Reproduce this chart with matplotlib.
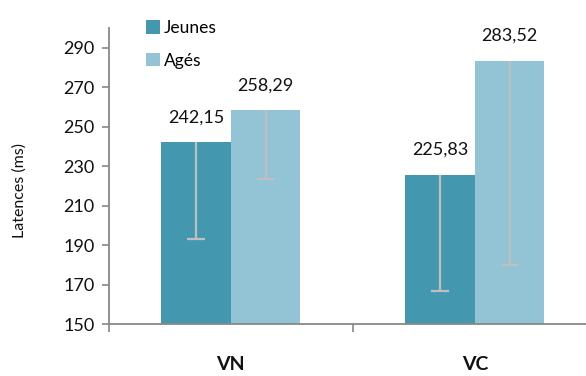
import matplotlib
matplotlib.use("Agg")
import matplotlib.pyplot as plt
import numpy as np
from matplotlib.patches import Patch

plt.rcParams["font.family"] = ["Lato", "DejaVu Sans"]

# Data
CATEGORIES = ["VN", "VC"]
SERIES = ["Jeunes", "Agés"]
JEUNES = [242.15, 225.83]
AGES = [258.29, 283.52]
JEUNES_ERR = [48.7, 58.8]   # minus-only error bars
AGES_ERR = [34.6, 103.2]
YTICKS = [150, 170, 190, 210, 230, 250, 270, 290]

CLR_JEUNES = "#4398B0"
CLR_AGES = "#93C4D5"
CLR_ERR = "#BFBFBF"
CLR_AXIS = "#888888"


def fmt(v):
    return f"{v:.2f}".replace(".", ",")


def build():
    fig = plt.figure(figsize=(5.86, 3.76), dpi=100)
    ax = fig.add_axes([0.1855, 0.137, 0.833, 0.7885])

    x = np.arange(len(CATEGORIES))
    w = 0.285
    cap = 0.035
    for vals, errs, clr, off in [(JEUNES, JEUNES_ERR, CLR_JEUNES, -w / 2),
                                 (AGES, AGES_ERR, CLR_AGES, w / 2)]:
        xs = x + off
        ax.bar(xs, vals, width=w, color=clr, zorder=2)
        lows = np.array(vals) - np.array(errs)
        ax.vlines(xs, lows, vals, color=CLR_ERR, linewidth=1.6, zorder=3)
        ax.hlines(lows, xs - cap, xs + cap, color=CLR_ERR, linewidth=1.6, zorder=3)
        for xi, v in zip(xs, vals):
            ax.annotate(fmt(v), (xi, v), xytext=(0, 18), textcoords="offset points",
                        ha="center", va="center", fontsize=13, color="#111")

    ax.set_xlim(-0.5, 1.5)
    ax.set_ylim(150, 300)
    ax.set_yticks(YTICKS)
    ax.set_xticks([-0.5, 0.5, 1.5])
    ax.set_xticklabels([])
    ax.tick_params(axis="y", labelsize=13, length=5, width=1.2, color=CLR_AXIS,
                   pad=5, labelcolor="#111")
    ax.tick_params(axis="x", length=6, width=1.2, color=CLR_AXIS)

    for xi, c in zip(x, CATEGORIES):
        ax.text(xi, -0.135, c, transform=ax.get_xaxis_transform(),
                ha="center", va="center", fontsize=14, fontweight="bold",
                color="#111")

    for s in ["top", "right"]:
        ax.spines[s].set_visible(False)
    for s in ["left", "bottom"]:
        ax.spines[s].set_color(CLR_AXIS)
        ax.spines[s].set_linewidth(1.3)

    fig.text(20 / 586, 1 - 190 / 376, "Latences (ms)", rotation=90,
             ha="center", va="center", fontsize=11.5, color="#111")

    handles = [Patch(facecolor=CLR_JEUNES, label=SERIES[0]),
               Patch(facecolor=CLR_AGES, label=SERIES[1])]
    fig.legend(handles=handles, loc="upper left",
               bbox_to_anchor=(134 / 586, 1 - 8 / 376), frameon=False,
               fontsize=12.5, handlelength=0.8, handleheight=0.8,
               handletextpad=0.2, labelspacing=0.95, borderpad=0.2)

    fig.savefig("out.png", dpi=100, facecolor="white")
    plt.close(fig)


if __name__ == "__main__":
    build()
